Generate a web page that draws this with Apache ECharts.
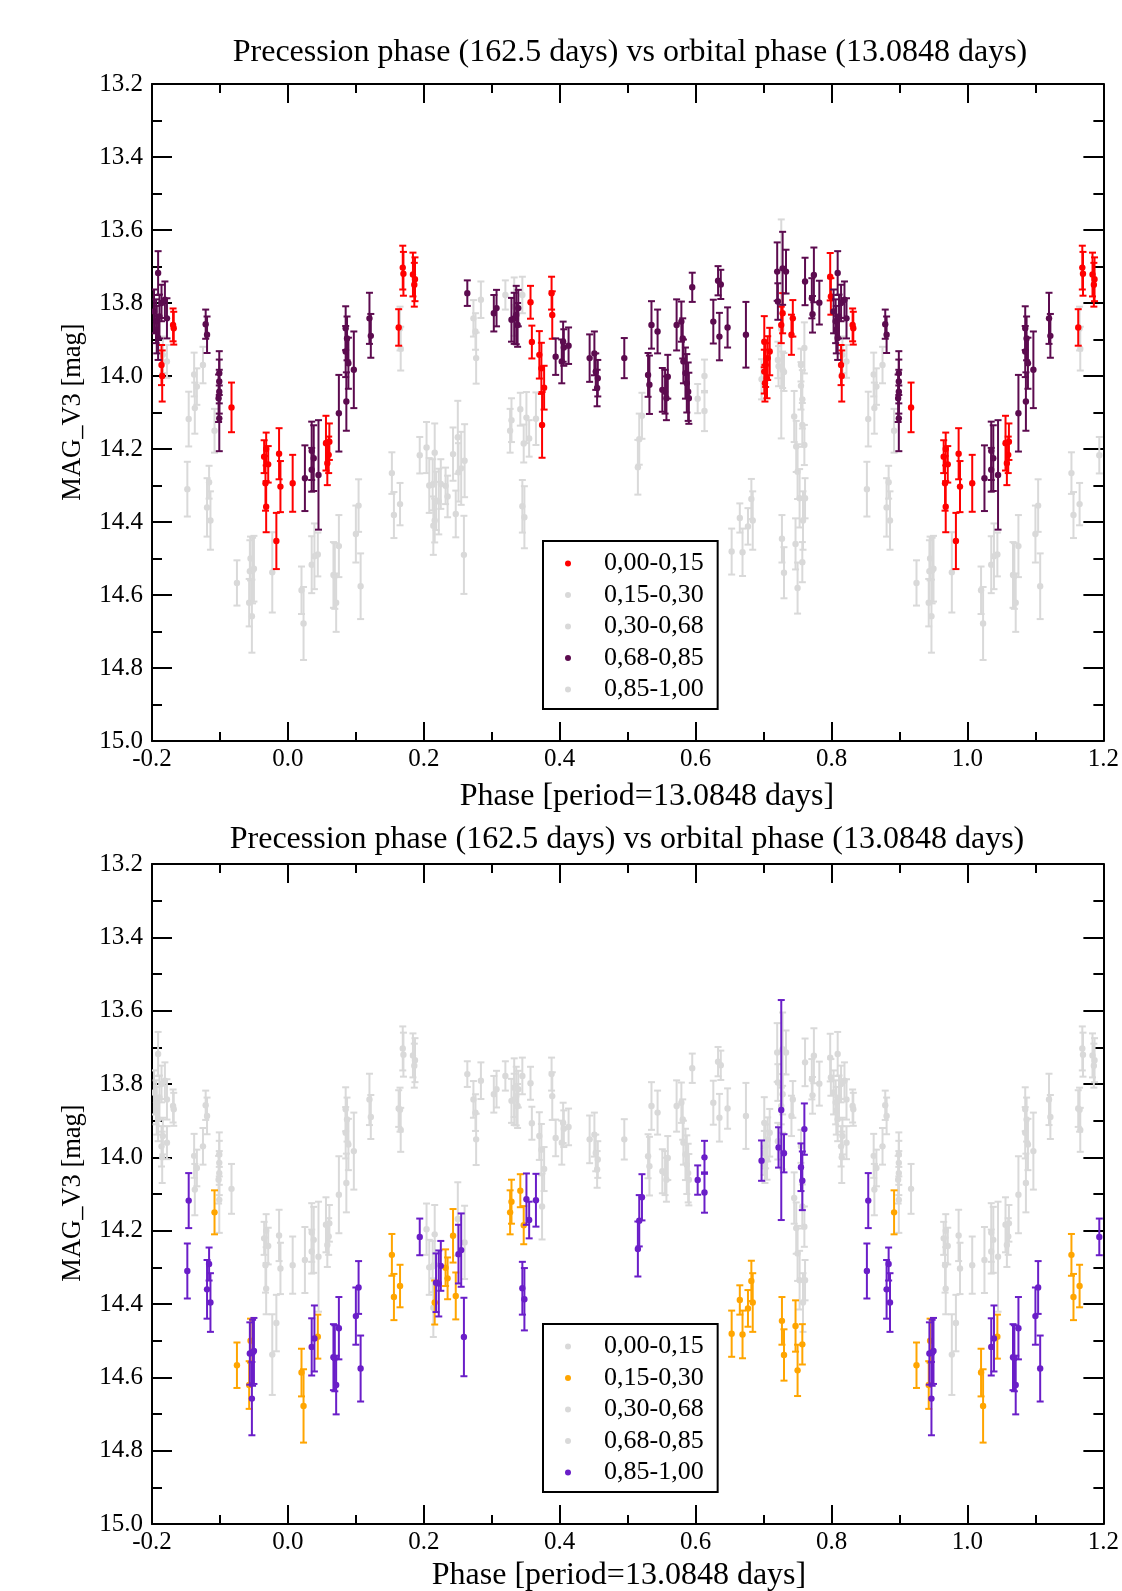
<!DOCTYPE html>
<html>
<head>
<meta charset="utf-8">
<script src="https://cdn.jsdelivr.net/npm/echarts@6/dist/echarts.min.js"></script>
<style>html,body{margin:0;padding:0;background:#fff}#c{width:1122px;height:1591px}</style>
</head>
<body>
<div id="c"></div>
<script>
// Precession-phase groups (legend labels)
const groupNames = ['0,00-0,15', '0,15-0,30', '0,30-0,68', '0,68-0,85', '0,85-1,00'];

// Group A: precession phase 0.00-0.15  (orbital phase, magnitude, error)
const phaseA = [0.007,0.056,0.058,0.061,0.060,0.163,0.169,0.170,0.184,0.187,0.186,0.357,0.359,0.370,0.373,0.377,0.374,0.388,0.389,0.701,0.709,0.706,0.703,0.701,0.705,0.702,0.728,0.726,0.743,0.741,0.798,0.799,0.814,0.815,0.831,0.832,0.917,0.965,0.971,0.968,0.967,0.968,0.983,0.987,0.989];
const magA = [14.294,14.184,14.239,14.180,14.216,13.867,13.703,13.720,13.722,13.735,13.750,13.798,13.907,13.942,13.979,14.032,14.134,13.773,13.833,13.906,13.933,13.951,13.970,13.988,14.006,14.020,13.828,13.860,13.842,13.887,13.728,13.782,13.970,14.000,13.860,13.869,14.086,14.221,14.242,14.200,14.294,14.358,14.452,14.213,14.303];
const errA = [0.078,0.075,0.060,0.050,0.050,0.050,0.060,0.060,0.060,0.060,0.060,0.045,0.045,0.065,0.070,0.060,0.090,0.045,0.065,0.070,0.065,0.060,0.060,0.060,0.055,0.050,0.055,0.050,0.050,0.055,0.065,0.050,0.055,0.070,0.045,0.045,0.068,0.045,0.050,0.045,0.075,0.070,0.077,0.070,0.070];

// Group B: precession phase 0.15-0.30
const phaseB = [0.020,0.023,0.044,0.153,0.156,0.165,0.216,0.232,0.235,0.243,0.247,0.327,0.329,0.342,0.347,0.653,0.665,0.669,0.677,0.682,0.684,0.727,0.730,0.747,0.750,0.757,0.892,0.925,0.943,0.945];
const magB = [14.587,14.678,14.489,14.266,14.381,14.351,14.396,14.301,14.330,14.214,14.378,14.150,14.121,14.091,14.185,14.481,14.389,14.483,14.412,14.337,14.396,14.446,14.539,14.460,14.581,14.510,14.150,14.567,14.621,14.500];
const errB = [0.065,0.100,0.060,0.057,0.063,0.058,0.060,0.050,0.057,0.073,0.064,0.060,0.060,0.045,0.052,0.063,0.040,0.065,0.050,0.055,0.080,0.065,0.070,0.070,0.070,0.055,0.060,0.062,0.065,0.060];

// Group C: precession phase 0.30-0.68
const phaseC = [0.165,0.166,0.204,0.208,0.213,0.216,0.214,0.250,0.260,0.273,0.276,0.277,0.284,0.320,0.333,0.345,0.721,0.728,0.745,0.748,0.750,0.753,0.755,0.757,0.760,0.761,0.758,0.816,0.822,0.862,0.863,0.866,0.875,0.977];
const magC = [13.870,13.925,14.196,14.300,14.298,14.210,14.410,14.168,14.232,13.842,13.878,13.951,13.791,13.778,13.810,13.778,13.956,13.983,14.111,14.193,14.262,14.335,13.970,14.134,14.189,14.335,14.396,13.942,13.960,13.996,14.088,14.029,13.970,14.538];
const errC = [0.060,0.060,0.070,0.075,0.070,0.080,0.080,0.100,0.100,0.050,0.050,0.070,0.050,0.040,0.080,0.050,0.050,0.050,0.070,0.070,0.075,0.080,0.045,0.060,0.055,0.055,0.080,0.050,0.045,0.060,0.070,0.050,0.050,0.110];

// Group D: precession phase 0.68-0.85
const phaseD = [0.025,0.035,0.035,0.038,0.045,0.075,0.085,0.087,0.085,0.089,0.086,0.097,0.120,0.122,0.264,0.303,0.307,0.329,0.333,0.336,0.338,0.339,0.394,0.403,0.405,0.406,0.413,0.444,0.451,0.453,0.456,0.455,0.495,0.530,0.532,0.535,0.544,0.551,0.555,0.559,0.557,0.572,0.579,0.581,0.582,0.585,0.587,0.589,0.590,0.595,0.626,0.633,0.637,0.635,0.647,0.674,0.720,0.728,0.733,0.721,0.761,0.774,0.771,0.772,0.782,0.809,0.803,0.806,0.807,0.809,0.811,0.814,0.819,0.822,0.879,0.881,0.899,0.899,0.899,0.898,0.899];
const magD = [14.280,14.205,14.257,14.225,14.271,14.102,13.869,13.897,13.933,13.965,14.070,13.983,13.842,13.890,13.773,13.828,13.814,13.846,13.842,13.833,13.860,13.814,13.947,13.960,13.906,13.922,13.917,13.951,13.938,13.988,14.006,14.033,13.951,13.997,14.024,13.860,13.878,14.038,14.043,14.002,14.061,13.860,13.851,13.897,13.960,13.992,14.020,14.043,14.061,13.757,13.851,13.739,13.749,13.892,13.867,13.887,13.714,13.705,13.714,13.796,13.741,13.723,13.787,13.831,13.799,13.718,13.823,13.850,13.873,13.896,13.837,13.800,13.791,13.842,13.858,13.887,13.992,14.015,14.043,14.061,14.116];
const errD = [0.090,0.080,0.060,0.090,0.150,0.105,0.060,0.060,0.070,0.070,0.080,0.105,0.070,0.060,0.035,0.050,0.050,0.060,0.070,0.080,0.060,0.050,0.050,0.060,0.055,0.050,0.050,0.065,0.060,0.050,0.050,0.050,0.055,0.060,0.080,0.065,0.060,0.060,0.060,0.060,0.060,0.070,0.055,0.055,0.060,0.070,0.080,0.080,0.070,0.040,0.060,0.040,0.040,0.065,0.055,0.090,0.080,0.100,0.060,0.050,0.065,0.075,0.055,0.050,0.060,0.060,0.060,0.060,0.065,0.060,0.060,0.050,0.050,0.055,0.040,0.050,0.060,0.060,0.060,0.065,0.090];

// Group E: precession phase 0.85-1.00
const phaseE = [0.035,0.039,0.067,0.069,0.071,0.075,0.100,0.104,0.107,0.194,0.218,0.222,0.225,0.251,0.255,0.259,0.345,0.348,0.351,0.355,0.365,0.515,0.517,0.521,0.603,0.613,0.613,0.697,0.722,0.726,0.730,0.755,0.757,0.760,0.852,0.854,0.881,0.884,0.886,0.944,0.947,0.948,0.950];
const magE = [14.517,14.494,14.545,14.548,14.621,14.466,14.433,14.355,14.576,14.217,14.342,14.344,14.296,14.264,14.253,14.490,14.357,14.387,14.114,14.171,14.117,14.250,14.173,14.109,14.062,14.000,14.096,14.009,13.973,13.871,13.989,14.027,14.064,13.923,14.310,14.118,14.360,14.291,14.396,14.535,14.658,14.533,14.528];
const errE = [0.078,0.090,0.090,0.090,0.080,0.085,0.078,0.072,0.090,0.050,0.080,0.090,0.068,0.080,0.100,0.107,0.072,0.085,0.070,0.050,0.072,0.075,0.070,0.063,0.040,0.045,0.055,0.055,0.055,0.300,0.052,0.065,0.080,0.070,0.075,0.075,0.080,0.045,0.080,0.085,0.100,0.090,0.090];

const titleText = 'Precession phase (162.5 days) vs orbital phase (13.0848 days)';
const xName = 'Phase [period=13.0848 days]';
const yName = 'MAG_V3 [mag]';

const GRAY = '#d9d9d9';
const topColors = ['#ff0000', GRAY, GRAY, '#5c0b4f', GRAY];
const botColors = [GRAY, '#ffa500', GRAY, GRAY, '#6a1ec8'];
const groups = [[phaseA, magA, errA], [phaseB, magB, errB], [phaseC, magC, errC], [phaseD, magD, errD], [phaseE, magE, errE]];

// phase-folded plot shows -0.2..1.2: repeat points one cycle earlier / later
function fold(ph, mg, er) {
  const out = [];
  for (let i = 0; i < ph.length; i++) {
    out.push([ph[i], mg[i], er[i]]);
    if (ph[i] >= 0.8) out.push([ph[i] - 1, mg[i], er[i]]);
    if (ph[i] <= 0.2) out.push([ph[i] + 1, mg[i], er[i]]);
  }
  return out;
}

function renderItem(params, api) {
  const x = api.value(0), y = api.value(1), e = api.value(2);
  const c = api.coord([x, y]);
  const t = api.coord([x, y - e]);
  const b = api.coord([x, y + e]);
  const color = api.visual('color');
  const cap = 3.5;
  const ls = { stroke: color, lineWidth: 2 };
  return {
    type: 'group',
    children: [
      { type: 'line', shape: { x1: c[0], y1: t[1], x2: c[0], y2: b[1] }, style: ls },
      { type: 'line', shape: { x1: c[0] - cap, y1: t[1], x2: c[0] + cap, y2: t[1] }, style: ls },
      { type: 'line', shape: { x1: c[0] - cap, y1: b[1], x2: c[0] + cap, y2: b[1] }, style: ls },
      { type: 'circle', shape: { cx: c[0], cy: c[1], r: 3.2 }, style: { fill: color } }
    ]
  };
}

function makeSeries(panel, colors, prefix) {
  const order = [0, 1, 2, 3, 4].sort((a, b) => (colors[a] === GRAY ? 0 : 1) - (colors[b] === GRAY ? 0 : 1));
  return order.map(i => ({
    type: 'custom',
    name: prefix + groupNames[i],
    xAxisIndex: panel * 2,
    yAxisIndex: panel * 2,
    dimensions: ['phase', 'mag', 'err'],
    encode: { x: 0, y: 1 },
    data: fold(groups[i][0], groups[i][1], groups[i][2]),
    renderItem: renderItem,
    itemStyle: { color: colors[i] },
    z: colors[i] === GRAY ? 1 : 2,
    clip: true,
    animation: false
  }));
}

const FONT = 'Liberation Serif';
const fmt = v => (Math.abs(v) < 1e-9 ? 0 : v).toFixed(1);
const lineSt = { color: '#000', width: 2 };

function xAxisDef(gridIndex, pos, labels) {
  return {
    type: 'value', gridIndex, position: pos, min: -0.2, max: 1.2, interval: 0.2,
    axisLine: { show: true, onZero: false, lineStyle: lineSt },
    axisTick: { show: true, inside: true, length: 19, lineStyle: lineSt },
    minorTick: { show: true, splitNumber: 2, length: 9, lineStyle: lineSt },
    splitLine: { show: false },
    axisLabel: { show: labels, formatter: fmt, fontFamily: FONT, fontSize: 25, color: '#000', margin: 6 }
  };
}
function yAxisDef(gridIndex, pos, labels) {
  return {
    type: 'value', gridIndex, position: pos, inverse: true, min: 13.2, max: 15.0, interval: 0.2,
    axisLine: { show: true, onZero: false, lineStyle: lineSt },
    axisTick: { show: true, inside: true, length: 20, lineStyle: lineSt },
    minorTick: { show: true, splitNumber: 2, length: 10, lineStyle: lineSt },
    splitLine: { show: false },
    axisLabel: { show: labels, formatter: fmt, fontFamily: FONT, fontSize: 25, color: '#000', margin: 9 }
  };
}

const legendCommon = {
  orient: 'vertical', icon: 'circle', itemWidth: 6, itemHeight: 6, itemGap: 0.5,
  padding: [7, 14, 4, 22], borderColor: '#000', borderWidth: 2, backgroundColor: '#fff',
  selectedMode: false,
  textStyle: { fontFamily: FONT, fontSize: 26, color: '#000', lineHeight: 31, padding: [0, 0, 0, 28] }
};

function txt(text, x, y, size, rot) {
  return {
    type: 'text', x, y, rotation: rot || 0, z: 10,
    style: { text, font: size + 'px "' + FONT + '"', fill: '#000', align: 'center', verticalAlign: 'middle' }
  };
}

const option = {
  animation: false,
  backgroundColor: '#fff',
  grid: [
    { left: 152, top: 84, width: 956, height: 657 },
    { left: 152, top: 864, width: 956, height: 660 }
  ],
  xAxis: [xAxisDef(0, 'bottom', true), xAxisDef(0, 'top', false), xAxisDef(1, 'bottom', true), xAxisDef(1, 'top', false)],
  yAxis: [yAxisDef(0, 'left', true), yAxisDef(0, 'right', false), yAxisDef(1, 'left', true), yAxisDef(1, 'right', false)],
  legend: [
    Object.assign({}, legendCommon, { left: 543, top: 541, data: groupNames }),
    Object.assign({}, legendCommon, { left: 543, top: 1324, data: groupNames.map(n => 'L2:' + n), formatter: n => n.slice(3) })
  ],
  graphic: [
    txt(titleText, 630, 53, 32),
    txt(xName, 647, 797, 32),
    txt(yName, 73, 412, 26.5, Math.PI / 2),
    txt(titleText, 627, 840, 32),
    txt(xName, 619, 1576, 32),
    txt(yName, 73, 1193, 26.5, Math.PI / 2)
  ],
  series: makeSeries(0, topColors, '').concat(makeSeries(1, botColors, 'L2:'))
};

const chart = echarts.init(document.getElementById('c'), null, { renderer: 'canvas' });
chart.setOption(option);
</script>
</body>
</html>
